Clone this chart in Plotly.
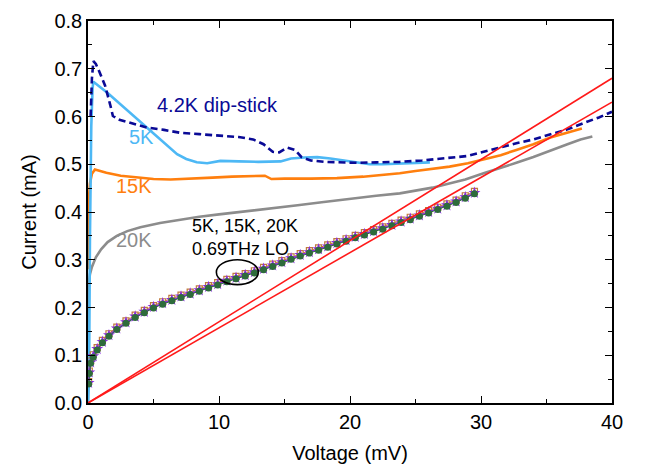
import plotly.graph_objects as go

# ---- measured I-V curves (voltage in mV, current in mA) ----
v_42k = [0.2, 0.3, 0.41, 0.6, 0.8, 1.0, 1.3, 1.7, 1.9, 2.4, 3.5, 4.5, 5.8, 7.0, 8.5,
         10.1, 11.5, 12.6, 13.4, 14.1, 14.6, 15.2, 15.8, 16.3, 17.0, 18.0, 19.0, 20.5,
         22.0, 23.8, 25.5, 27.0, 28.9, 30.2, 31.5, 32.7, 34.0, 35.3, 36.6, 38.0, 39.0, 40.0]
i_42k = [0.60, 0.68, 0.716, 0.71, 0.698, 0.685, 0.665, 0.624, 0.601, 0.593, 0.585, 0.577,
         0.572, 0.566, 0.563, 0.560, 0.557, 0.552, 0.542, 0.526, 0.525, 0.535, 0.530, 0.515,
         0.508, 0.505, 0.504, 0.503, 0.504, 0.505, 0.508, 0.512, 0.517, 0.526, 0.536, 0.544,
         0.552, 0.562, 0.573, 0.588, 0.598, 0.610]

v_5k = [0.0, 0.08, 0.15, 0.25, 0.35, 0.41, 1.5, 3.0, 4.5, 6.0, 6.8, 7.5, 8.3, 9.1, 10.1,
        11.5, 13.0, 14.7, 15.5, 16.5, 17.5, 18.5, 19.5, 20.5, 21.5, 22.5, 23.5, 24.5, 25.5, 26.1]
i_5k = [0.0, 0.05, 0.35, 0.58, 0.66, 0.673, 0.649, 0.613, 0.577, 0.541, 0.521, 0.511, 0.504,
        0.502, 0.507, 0.506, 0.505, 0.506, 0.512, 0.514, 0.515, 0.512, 0.508, 0.505, 0.500,
        0.500, 0.501, 0.502, 0.503, 0.504]

v_15k = [0.0, 0.05, 0.15, 0.3, 0.53, 0.9, 1.4, 2.5, 4.0, 5.0, 6.3, 7.5, 9.5, 11.0, 12.5,
         13.5, 14.0, 15.0, 17.0, 19.0, 21.0, 22.5, 23.8, 25.0, 26.3, 27.6, 29.0, 30.2, 31.5,
         32.7, 34.0, 35.3, 36.5, 37.7]
i_15k = [0.28, 0.42, 0.46, 0.48, 0.489, 0.486, 0.482, 0.476, 0.471, 0.469, 0.468, 0.469,
         0.472, 0.474, 0.476, 0.476, 0.469, 0.470, 0.470, 0.471, 0.474, 0.477, 0.481, 0.486,
         0.490, 0.495, 0.502, 0.510, 0.519, 0.530, 0.542, 0.556, 0.566, 0.575]

v_20k = [0.0, 0.02, 0.05, 0.15, 0.3, 0.6, 1.0, 1.5, 2.2, 3.0, 4.0, 5.5, 7.0, 8.5, 10.0,
         12.0, 14.0, 16.0, 18.0, 20.0, 22.0, 23.8, 25.0, 26.3, 27.5, 28.8, 30.2, 31.5, 32.7,
         34.0, 35.3, 36.6, 37.6, 38.5]
i_20k = [0.0, 0.15, 0.25, 0.27, 0.285, 0.305, 0.322, 0.337, 0.35, 0.36, 0.368, 0.377, 0.384,
         0.39, 0.395, 0.401, 0.407, 0.414, 0.421, 0.428, 0.434, 0.439, 0.444, 0.451, 0.459,
         0.468, 0.481, 0.492, 0.503, 0.515, 0.529, 0.542, 0.552, 0.558]

# pumped curves with 0.69 THz LO (5K, 15K, 20K nearly coincide)
v_lo = [0.05, 0.1, 0.2, 0.4, 0.7, 1.1, 1.6, 2.2, 2.9, 3.6, 4.3, 5.0, 5.7, 6.4, 7.1, 7.8,
        8.5, 9.2, 9.9, 10.6, 11.3, 12.0, 12.7, 13.4, 14.1, 14.8, 15.5, 16.2, 16.9, 17.6,
        18.3, 19.0, 19.7, 20.4, 21.1, 21.8, 22.5, 23.2, 23.9, 24.6, 25.3, 26.0, 26.7, 27.4,
        28.1, 28.8, 29.5]
i_lo_5k = [0.040, 0.062, 0.083, 0.096, 0.111, 0.126, 0.140, 0.154, 0.167, 0.179, 0.189,
           0.199, 0.207, 0.214, 0.221, 0.227, 0.234, 0.241, 0.247, 0.254, 0.260, 0.266,
           0.272, 0.279, 0.286, 0.293, 0.301, 0.308, 0.314, 0.320, 0.326, 0.333, 0.339,
           0.346, 0.352, 0.358, 0.364, 0.371, 0.378, 0.384, 0.391, 0.398, 0.405, 0.412,
           0.420, 0.429, 0.438]
i_lo_15k = [0.042, 0.064, 0.085, 0.098, 0.113, 0.128, 0.142, 0.156, 0.169, 0.181, 0.191,
            0.201, 0.209, 0.216, 0.223, 0.229, 0.236, 0.243, 0.249, 0.256, 0.262, 0.268,
            0.274, 0.281, 0.288, 0.295, 0.303, 0.310, 0.316, 0.322, 0.328, 0.335, 0.341,
            0.348, 0.354, 0.360, 0.366, 0.373, 0.380, 0.386, 0.393, 0.400, 0.407, 0.414,
            0.422, 0.431, 0.440]
i_lo_20k = [0.045, 0.067, 0.088, 0.101, 0.116, 0.131, 0.145, 0.159, 0.172, 0.184, 0.194,
            0.204, 0.212, 0.219, 0.226, 0.232, 0.239, 0.246, 0.252, 0.259, 0.265, 0.271,
            0.277, 0.284, 0.291, 0.298, 0.306, 0.313, 0.319, 0.325, 0.331, 0.338, 0.344,
            0.351, 0.357, 0.363, 0.369, 0.376, 0.383, 0.389, 0.396, 0.403, 0.410, 0.417,
            0.425, 0.434, 0.443]

# load lines through the origin
v_load = [0.0, 40.0]
i_load_a = [0.0, 0.680]
i_load_b = [0.0, 0.630]

x_ticks = [0, 10, 20, 30, 40]
y_ticks = [0.0, 0.1, 0.2, 0.3, 0.4, 0.5, 0.6, 0.7, 0.8]

FONT = "Liberation Sans, Arial, sans-serif"

fig = go.Figure()

fig.add_trace(go.Scatter(x=v_20k, y=i_20k, mode="lines",
                         line=dict(color="#8c8c8c", width=2.6), name="20K"))
fig.add_trace(go.Scatter(x=v_15k, y=i_15k, mode="lines",
                         line=dict(color="#ff7f0e", width=2.6), name="15K"))
fig.add_trace(go.Scatter(x=v_5k, y=i_5k, mode="lines",
                         line=dict(color="#4db8f5", width=2.6), name="5K"))
fig.add_trace(go.Scatter(x=v_42k, y=i_42k, mode="lines",
                         line=dict(color="#0a0a96", width=2.6, dash="7px,4px"),
                         name="4.2K dip-stick"))

fig.add_trace(go.Scatter(x=v_lo, y=i_lo_20k, mode="lines+markers",
                         line=dict(color="#c07a3c", width=1),
                         marker=dict(symbol="square-open", size=6, color="#c07a3c",
                                     line=dict(width=1.2)),
                         name="20K LO"))
fig.add_trace(go.Scatter(x=v_lo, y=i_lo_15k, mode="lines+markers",
                         line=dict(color="#8a2be2", width=1.5),
                         marker=dict(symbol="star", size=9, color="#8a2be2"),
                         name="15K LO"))
fig.add_trace(go.Scatter(x=v_lo, y=i_lo_5k, mode="lines+markers",
                         line=dict(color="#2e6b3c", width=1),
                         marker=dict(symbol="circle", size=7, color="#2e6b3c"),
                         name="5K LO"))

fig.add_trace(go.Scatter(x=v_load, y=i_load_a, mode="lines",
                         line=dict(color="#ff1a1a", width=1.6), name="load A"))
fig.add_trace(go.Scatter(x=v_load, y=i_load_b, mode="lines",
                         line=dict(color="#ff1a1a", width=1.6), name="load B"))

# curve labels
labels = [
    ("4.2K dip-stick", 5.1, 0.625, "#0a0a96", 20),
    ("5K", 2.95, 0.558, "#4db8f5", 20),
    ("15K", 2.0, 0.454, "#ff7f0e", 20),
    ("20K", 2.0, 0.342, "#8c8c8c", 20),
    ("5K, 15K, 20K<br>0.69THz LO", 7.8, 0.347, "black", 18),
]
for text, x, y, color, size in labels:
    fig.add_annotation(x=x, y=y, xref="x", yref="y", text=text, showarrow=False,
                       xanchor="left", yanchor="middle", align="left",
                       font=dict(family=FONT, size=size, color=color))

# ellipse marking the LO-pumped curves
ell_x0, ell_x1 = 9.8, 13.0
ell_y0, ell_y1 = 0.248, 0.300
fig.add_shape(type="circle", xref="x", yref="y", x0=ell_x0, x1=ell_x1, y0=ell_y0, y1=ell_y1,
              line=dict(color="black", width=1.6))

axis_common = dict(
    showline=True, linecolor="black", linewidth=1.5, mirror="ticks",
    ticks="inside", ticklen=7, tickwidth=1.2, tickcolor="black",
    showgrid=False, zeroline=False,
    tickfont=dict(family=FONT, size=20, color="black"),
)

fig.update_xaxes(range=[0, 40], tickvals=x_ticks,
                 minor=dict(dtick=5, ticks="inside", ticklen=4, tickcolor="black"),
                 title=dict(text="Voltage (mV)", font=dict(family=FONT, size=20, color="black"),
                            standoff=14),
                 **axis_common)
fig.update_yaxes(range=[0, 0.8], tickvals=y_ticks, tickformat=".1f",
                 minor=dict(dtick=0.05, ticks="inside", ticklen=4, tickcolor="black"),
                 title=dict(text="Current (mA)", font=dict(family=FONT, size=20, color="black"),
                            standoff=12),
                 **axis_common)

fig.update_layout(
    width=647, height=471,
    margin=dict(l=88, r=35, t=10, b=67),
    plot_bgcolor="white", paper_bgcolor="white",
    showlegend=False,
)

fig.write_html("out.html")
